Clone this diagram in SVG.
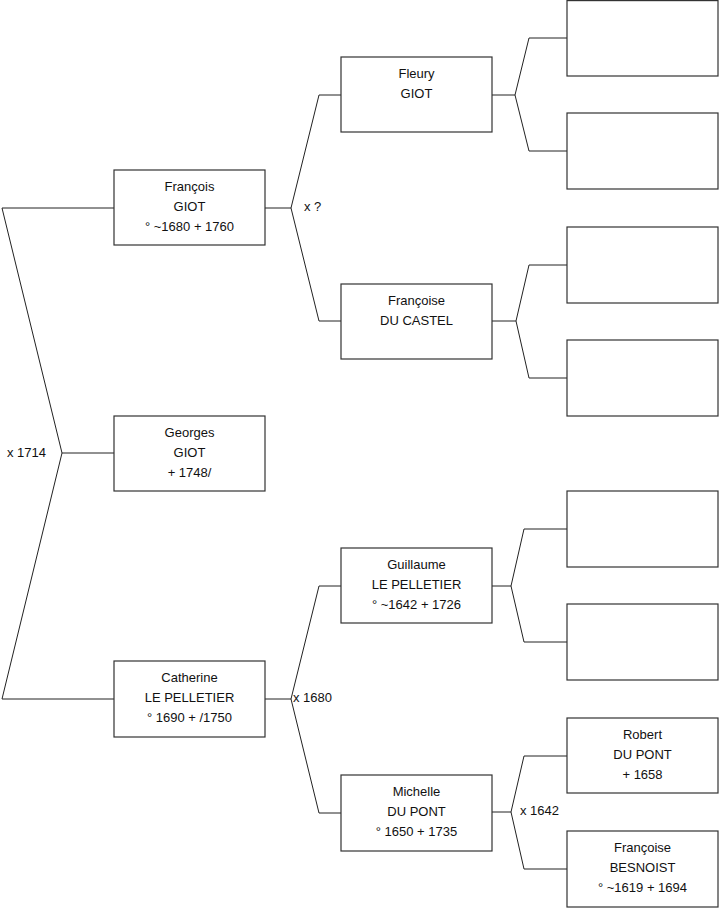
<svg xmlns="http://www.w3.org/2000/svg" width="719" height="908" viewBox="0 0 719 908">
<style>
.box{fill:#fff;stroke:#333;stroke-width:1.2}
.ln{fill:none;stroke:#222;stroke-width:1}
text{font-family:"Liberation Sans",Arial,sans-serif;font-size:13px;fill:#111}
.c{text-anchor:middle}
</style>
<rect width="719" height="908" fill="#fff"/>
<g id="connectors">
<polyline class="ln" points="114,208 2,208 62,453 2,699 114,699"/>
<line class="ln" x1="62" y1="453" x2="114" y2="453"/>
<polyline class="ln" points="341,95 319,95 291,208 319,321 341,321"/>
<line class="ln" x1="265" y1="208" x2="291" y2="208"/>
<polyline class="ln" points="341,586 319,586 291,699 319,813 341,813"/>
<line class="ln" x1="265" y1="699" x2="291" y2="699"/>
<polyline class="ln" points="567,38 529,38 515,95 529,151 567,151"/>
<line class="ln" x1="492" y1="95" x2="515" y2="95"/>
<polyline class="ln" points="567,265 529,265 516,321 529,378 567,378"/>
<line class="ln" x1="492" y1="321" x2="516" y2="321"/>
<polyline class="ln" points="567,529 524,529 511,586 524,642 567,642"/>
<line class="ln" x1="492" y1="586" x2="511" y2="586"/>
<polyline class="ln" points="567,756 524,756 511,812 524,869 567,869"/>
<line class="ln" x1="492" y1="812" x2="511" y2="812"/>
<text x="7" y="457">x 1714</text>
<text x="304" y="211">x ?</text>
<text x="293" y="702">x 1680</text>
<text x="520" y="815">x 1642</text>
</g>
<g id="francois"><rect class="box" x="114" y="170" width="151" height="75"/><text class="c" x="189.5" y="191">François</text><text class="c" x="189.5" y="211">GIOT</text><text class="c" x="189.5" y="231">° ~1680 + 1760</text></g>
<g id="georges"><rect class="box" x="114" y="416" width="151" height="75"/><text class="c" x="189.5" y="437">Georges</text><text class="c" x="189.5" y="457">GIOT</text><text class="c" x="189.5" y="477">+ 1748/</text></g>
<g id="catherine"><rect class="box" x="114" y="661" width="151" height="76"/><text class="c" x="189.5" y="682">Catherine</text><text class="c" x="189.5" y="702">LE PELLETIER</text><text class="c" x="189.5" y="722">° 1690 + /1750</text></g>
<g id="fleury"><rect class="box" x="341" y="57" width="151" height="75"/><text class="c" x="416.5" y="78">Fleury</text><text class="c" x="416.5" y="98">GIOT</text></g>
<g id="francoise-du-castel"><rect class="box" x="341" y="284" width="151" height="75"/><text class="c" x="416.5" y="305">Françoise</text><text class="c" x="416.5" y="325">DU CASTEL</text></g>
<g id="guillaume"><rect class="box" x="341" y="548" width="151" height="75"/><text class="c" x="416.5" y="569">Guillaume</text><text class="c" x="416.5" y="589">LE PELLETIER</text><text class="c" x="416.5" y="609">° ~1642 + 1726</text></g>
<g id="michelle"><rect class="box" x="341" y="775" width="151" height="76"/><text class="c" x="416.5" y="796">Michelle</text><text class="c" x="416.5" y="816">DU PONT</text><text class="c" x="416.5" y="836">° 1650 + 1735</text></g>
<g id="empty1"><rect class="box" x="567" y="0.6" width="151" height="75.4"/></g>
<g id="empty2"><rect class="box" x="567" y="113" width="151" height="76"/></g>
<g id="empty3"><rect class="box" x="567" y="227" width="151" height="76"/></g>
<g id="empty4"><rect class="box" x="567" y="340" width="151" height="76"/></g>
<g id="empty5"><rect class="box" x="567" y="491" width="151" height="76"/></g>
<g id="empty6"><rect class="box" x="567" y="604" width="151" height="76"/></g>
<g id="robert"><rect class="box" x="567" y="718" width="151" height="75"/><text class="c" x="642.5" y="739">Robert</text><text class="c" x="642.5" y="759">DU PONT</text><text class="c" x="642.5" y="779">+ 1658</text></g>
<g id="francoise-besnoist"><rect class="box" x="567" y="831" width="151" height="76"/><text class="c" x="642.5" y="852">Françoise</text><text class="c" x="642.5" y="872">BESNOIST</text><text class="c" x="642.5" y="892">° ~1619 + 1694</text></g>
</svg>
